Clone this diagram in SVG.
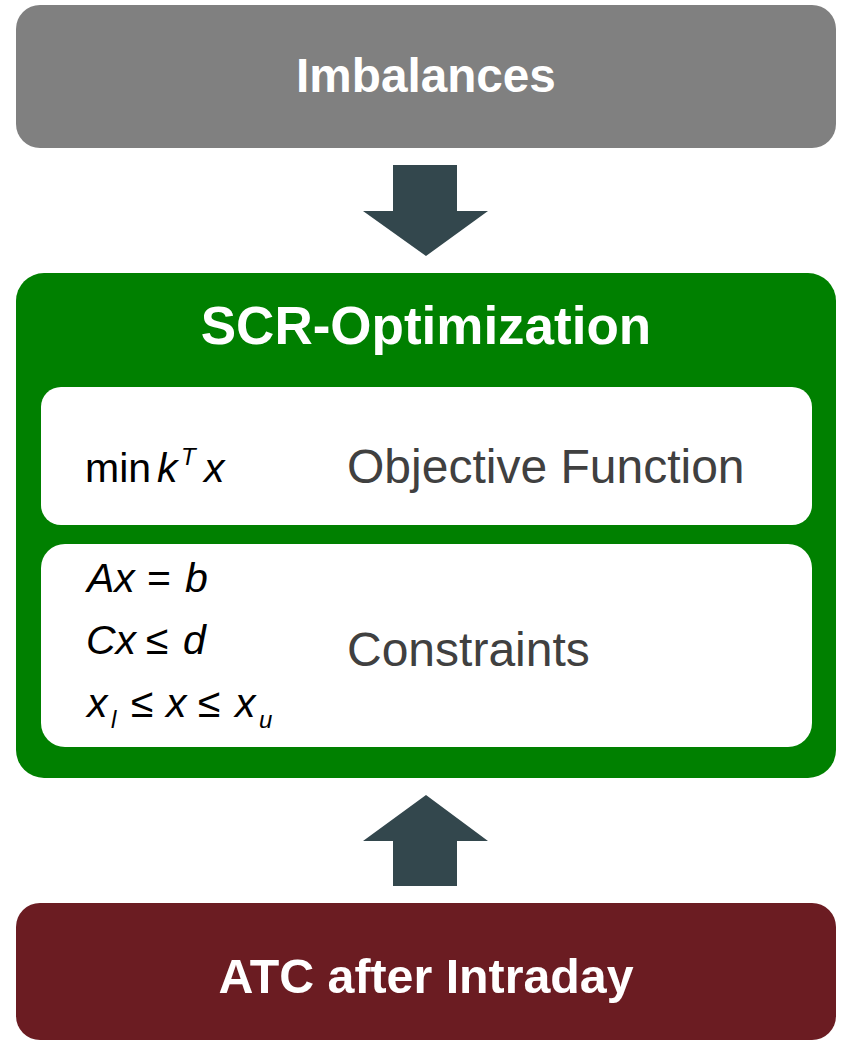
<svg xmlns="http://www.w3.org/2000/svg" width="842" height="1042" viewBox="0 0 842 1042">
<style>
.title{font-family:"Liberation Sans",Arial,sans-serif;font-weight:bold;fill:#fff;text-anchor:middle}
.lbl{font-family:"Liberation Sans",Arial,sans-serif;fill:#404040;font-size:48px}
.m{font-family:"Liberation Sans",Arial,sans-serif;fill:#000;font-size:41px}
.it{font-style:italic}
.arrow{fill:#33474d}
</style>
<rect width="842" height="1042" fill="#fff"/>
<g id="imbalances">
<rect x="16" y="5" width="820" height="143" rx="24" fill="#808080"/>
<text class="title" x="426" y="92" font-size="47.7">Imbalances</text>
</g>
<g id="connectors">
<polygon class="arrow" points="393,165 457,165 457,211 488,211 426,256 363,211 393,211"/>
<polygon class="arrow" points="393,886 457,886 457,841 488,841 426,795 363,841 393,841"/>
</g>
<g id="scr-optimization">
<rect x="16" y="273" width="820" height="505" rx="28" fill="#008000"/>
<text class="title" x="426" y="344" font-size="53">SCR-Optimization</text>
</g>
<g id="objective">
<rect x="41" y="387" width="771" height="138" rx="20" fill="#fff"/>
<text class="m" y="482"><tspan x="85">min</tspan><tspan class="it" x="157">k</tspan><tspan class="it" x="181" y="465" font-size="24">T</tspan><tspan class="it" x="204" y="482">x</tspan></text>
<text class="lbl" x="347" y="483">Objective Function</text>
</g>
<g id="constraints">
<rect x="41" y="544" width="771" height="203" rx="24" fill="#fff"/>
<text class="m" y="592"><tspan class="it" x="87">Ax</tspan><tspan x="147">=</tspan><tspan class="it" x="185">b</tspan></text>
<text class="m" y="654"><tspan class="it" x="86">Cx</tspan><tspan x="146">≤</tspan><tspan class="it" x="183">d</tspan></text>
<text class="m" y="717"><tspan class="it" x="87">x</tspan><tspan class="it" x="111" y="728" font-size="24">l</tspan><tspan x="131" y="717">≤</tspan><tspan class="it" x="166">x</tspan><tspan x="198">≤</tspan><tspan class="it" x="235">x</tspan><tspan class="it" x="259" y="728" font-size="24">u</tspan></text>
<text class="lbl" x="347" y="666">Constraints</text>
</g>
<g id="atc">
<rect x="16" y="903" width="820" height="137" rx="24" fill="#6b1c22"/>
<text class="title" x="426" y="993" font-size="48.3">ATC after Intraday</text>
</g>
</svg>
